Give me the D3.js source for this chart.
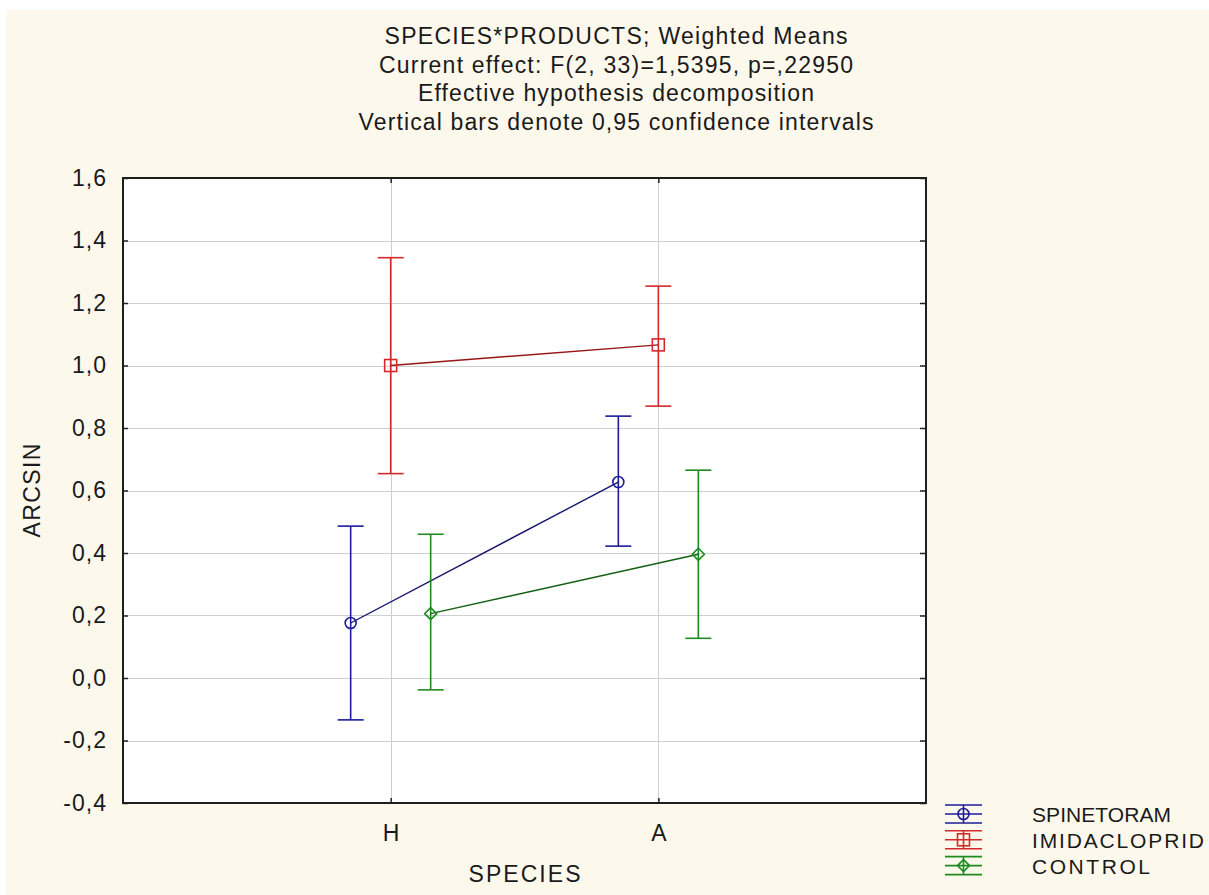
<!DOCTYPE html>
<html>
<head>
<meta charset="utf-8">
<script src="https://cdn.jsdelivr.net/npm/d3@7"></script>
<style>
  html, body { margin: 0; padding: 0; background: #ffffff; }
  svg { display: block; }
  text { font-family: "Liberation Sans", Arial, sans-serif; fill: #1a1a1a; }
</style>
</head>
<body>
<svg id="chart" width="1209" height="895"></svg>
<script>
// Weighted means by species and product, with 95% confidence limits
const species = ["H", "A"];
const products = ["SPINETORAM", "IMIDACLOPRID", "CONTROL"];
const spinetoramMean  = [0.176, 0.627];
const spinetoramLow   = [-0.134, 0.422];
const spinetoramHigh  = [0.486, 0.838];
const imidaclopridMean = [1.000, 1.066];
const imidaclopridLow  = [0.654, 0.870];
const imidaclopridHigh = [1.345, 1.254];
const controlMean = [0.206, 0.396];
const controlLow  = [-0.038, 0.127];
const controlHigh = [0.460, 0.665];
const yTicks = [-0.4, -0.2, 0.0, 0.2, 0.4, 0.6, 0.8, 1.0, 1.2, 1.4, 1.6];
const titleLines = [
  "SPECIES*PRODUCTS; Weighted Means",
  "Current effect: F(2, 33)=1,5395, p=,22950",
  "Effective hypothesis decomposition",
  "Vertical bars denote 0,95 confidence intervals"
];
// rendered widths of the title lines and legend labels (px)
const titleWidths = [463, 474, 396, 515];
const legendWidths = [139, 172, 118];

const seriesStyle = {
  SPINETORAM:   { bar: "#1c1c9c", line: "#16166e", shape: "circle" },
  IMIDACLOPRID: { bar: "#d42a2a", line: "#961616", shape: "square" },
  CONTROL:      { bar: "#1f8a1f", line: "#135e13", shape: "diamond" }
};

const series = [
  { name: products[0], mean: spinetoramMean, low: spinetoramLow, high: spinetoramHigh },
  { name: products[1], mean: imidaclopridMean, low: imidaclopridLow, high: imidaclopridHigh },
  { name: products[2], mean: controlMean, low: controlLow, high: controlHigh }
];

const svg = d3.select("#chart");
const W = 1209, H = 895;
const plot = { left: 123, right: 926, top: 178, bottom: 803 };
const FS = 23;

// page background
svg.append("rect").attr("x", 0).attr("y", 0).attr("width", W).attr("height", H).attr("fill", "#ffffff");
svg.append("rect").attr("x", 6).attr("y", 10).attr("width", W - 6).attr("height", H - 10).attr("fill", "#fdf8ec");

const x = d3.scalePoint().domain(species).range([plot.left, plot.right]).padding(1);
const offset = d3.scalePoint().domain(products).range([-40, 40]);
const y = d3.scaleLinear().domain([-0.4, 1.6]).range([plot.bottom, plot.top]);

// plot area
svg.append("rect")
  .attr("x", plot.left).attr("y", plot.top)
  .attr("width", plot.right - plot.left).attr("height", plot.bottom - plot.top)
  .attr("fill", "#ffffff");

// grid
const grid = svg.append("g").attr("stroke", "#cfcfcf").attr("stroke-width", 1);
grid.selectAll("line.h").data(yTicks.slice(1, -1)).join("line")
  .attr("x1", plot.left).attr("x2", plot.right)
  .attr("y1", d => Math.round(y(d)) + 0.5).attr("y2", d => Math.round(y(d)) + 0.5);
grid.selectAll("line.v").data(species).join("line")
  .attr("y1", plot.top).attr("y2", plot.bottom)
  .attr("x1", d => Math.round(x(d)) + 0.5).attr("x2", d => Math.round(x(d)) + 0.5);

// axes with inward ticks
const fmt = d => d3.format(".1f")(d).replace(".", ",").replace("−", "-");
const yAxisL = d3.axisLeft(y).tickValues(yTicks).tickSize(-5).tickPadding(16).tickFormat(fmt);
const gyl = svg.append("g").attr("transform", `translate(${plot.left},0)`).call(yAxisL);
gyl.select(".domain").remove();
gyl.selectAll(".tick line").attr("stroke", "#222").attr("stroke-width", 1.5);
gyl.selectAll(".tick text").attr("font-size", FS).attr("fill", "#1a1a1a").attr("letter-spacing", 1);

const yAxisR = d3.axisRight(y).tickValues(yTicks).tickSize(-6).tickFormat("");
const gyr = svg.append("g").attr("transform", `translate(${plot.right},0)`).call(yAxisR);
gyr.select(".domain").remove();
gyr.selectAll(".tick line").attr("stroke", "#222").attr("stroke-width", 1.5);

const xAxis = d3.axisBottom(x).tickSize(-5).tickPadding(22);
const gx = svg.append("g").attr("transform", `translate(0,${plot.bottom})`).call(xAxis);
gx.select(".domain").remove();
gx.selectAll(".tick line").attr("stroke", "#222").attr("stroke-width", 1.5);
gx.selectAll(".tick text").attr("font-size", FS).attr("fill", "#1a1a1a");

const xAxisT = d3.axisTop(x).tickSize(-5).tickFormat("");
const gxt = svg.append("g").attr("transform", `translate(0,${plot.top})`).call(xAxisT);
gxt.select(".domain").remove();
gxt.selectAll(".tick line").attr("stroke", "#222").attr("stroke-width", 1.5);

// frame
svg.append("rect")
  .attr("x", plot.left).attr("y", plot.top)
  .attr("width", plot.right - plot.left).attr("height", plot.bottom - plot.top)
  .attr("fill", "none").attr("stroke", "#1e1e1e").attr("stroke-width", 2);

// marker drawing
const markerSize = 12;
function drawMarker(g, shape, cx, cy, color) {
  const s = markerSize / 2;
  if (shape === "circle") {
    g.append("circle").attr("cx", cx).attr("cy", cy).attr("r", s - 0.5)
      .attr("fill", "none").attr("stroke", color).attr("stroke-width", 1.6);
  } else if (shape === "square") {
    g.append("rect").attr("x", cx - s).attr("y", cy - s).attr("width", markerSize).attr("height", markerSize)
      .attr("fill", "none").attr("stroke", color).attr("stroke-width", 1.6);
  } else {
    g.append("path").attr("d", `M${cx},${cy - s}L${cx + s},${cy}L${cx},${cy + s}L${cx - s},${cy}Z`)
      .attr("fill", "none").attr("stroke", color).attr("stroke-width", 1.6);
  }
}

const capW = 13;
series.forEach(s => {
  const st = seriesStyle[s.name];
  const g = svg.append("g");
  const px = (i) => x(species[i]) + offset(s.name);
  const pts = species.map((sp, i) => [px(i), y(s.mean[i])]);
  // error bars
  species.forEach((sp, i) => {
    const cx = px(i);
    g.append("line").attr("x1", cx).attr("x2", cx).attr("y1", y(s.low[i])).attr("y2", y(s.high[i]))
      .attr("stroke", st.bar).attr("stroke-width", 1.6);
    [s.low[i], s.high[i]].forEach(v => {
      g.append("line").attr("x1", cx - capW).attr("x2", cx + capW).attr("y1", y(v)).attr("y2", y(v))
        .attr("stroke", st.bar).attr("stroke-width", 1.6);
    });
  });
  // connecting line
  g.append("path").attr("d", d3.line()(pts)).attr("fill", "none")
    .attr("stroke", st.line).attr("stroke-width", 1.4);
  pts.forEach(p => drawMarker(g, st.shape, p[0], p[1], st.bar));
});

// title
const title = svg.append("g");
titleLines.forEach((t, i) => {
  title.append("text").attr("x", 616).attr("y", 44 + i * 28.5)
    .attr("text-anchor", "middle").attr("font-size", FS)
    .attr("textLength", titleWidths[i]).attr("lengthAdjust", "spacing").text(t);
});

// axis titles
svg.append("text").attr("x", (plot.left + plot.right) / 2).attr("y", 882)
  .attr("text-anchor", "middle").attr("font-size", FS)
  .attr("textLength", 112).attr("lengthAdjust", "spacing").text("SPECIES");
svg.append("text").attr("transform", `translate(40,${(plot.top + plot.bottom) / 2}) rotate(-90)`)
  .attr("text-anchor", "middle").attr("font-size", FS)
  .attr("textLength", 94).attr("lengthAdjust", "spacing").text("ARCSIN");

// legend
const legend = svg.append("g");
series.forEach((s, i) => {
  const st = seriesStyle[s.name];
  const cy = 814 + i * 25.8;
  const lx0 = 945, lx1 = 982, lxc = 963.5;
  [-9, 0, 9].forEach(dy => {
    legend.append("line").attr("x1", lx0).attr("x2", lx1).attr("y1", cy + dy).attr("y2", cy + dy)
      .attr("stroke", st.bar).attr("stroke-width", 1.6);
  });
  legend.append("line").attr("x1", lxc).attr("x2", lxc).attr("y1", cy - 9).attr("y2", cy + 9)
    .attr("stroke", st.bar).attr("stroke-width", 1.6);
  drawMarker(legend, st.shape, lxc, cy, st.bar);
  legend.append("text").attr("x", 1032).attr("y", cy + 8).attr("font-size", 21)
    .attr("textLength", legendWidths[i]).attr("lengthAdjust", "spacing").text(s.name);
});
</script>
</body>
</html>
